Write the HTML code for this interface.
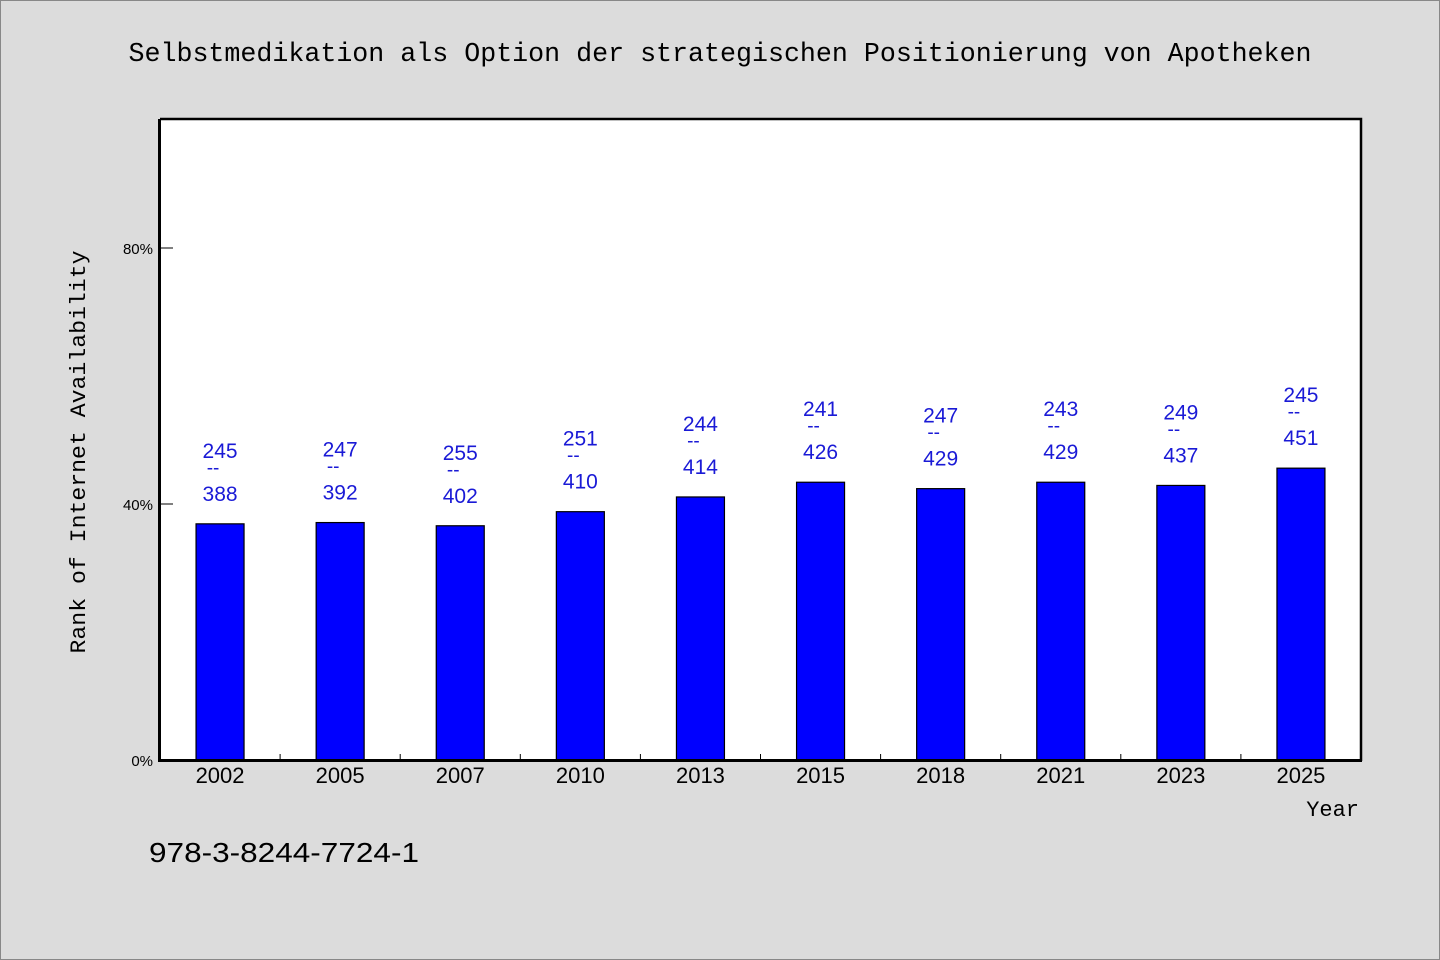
<!DOCTYPE html>
<html><head><meta charset="utf-8"><style>
html,body{margin:0;padding:0;background:#dcdcdc;}
svg{display:block;}
</style></head><body>
<svg width="1440" height="960" xmlns="http://www.w3.org/2000/svg">
<rect x="0.5" y="0.5" width="1439" height="959" fill="#dcdcdc" stroke="#888"/>
<text x="720" y="61" text-anchor="middle" font-family="'Liberation Mono',monospace" font-size="27" textLength="1183" lengthAdjust="spacingAndGlyphs" fill="#000">Selbstmedikation als Option der strategischen Positionierung von Apotheken</text>
<rect x="160" y="120" width="1201" height="640" fill="#fff"/>
<g id="bars"></g>
<g id="axes"></g>
<path d="M160,119 H1361 V761" fill="none" stroke="#000" stroke-width="2.5"/>
<path d="M159.5,119 V760.5 H1362" fill="none" stroke="#000" stroke-width="3"/>
<text transform="translate(85,452) rotate(-90)" text-anchor="middle" font-family="'Liberation Mono',monospace" font-size="22" textLength="403" lengthAdjust="spacingAndGlyphs">Rank of Internet Availability</text>
<text x="1359" y="816" text-anchor="end" font-family="'Liberation Mono',monospace" font-size="22">Year</text>
<text x="149" y="862" font-family="'Liberation Sans',sans-serif" font-size="28" textLength="270" lengthAdjust="spacingAndGlyphs">978-3-8244-7724-1</text>
</svg>
<script>
const years = ['2002','2005','2007','2010','2013','2015','2018','2021','2023','2025'];
const values = [36.9, 37.1, 36.6, 38.8, 41.1, 43.4, 42.4, 43.4, 42.9, 45.6];
const topLabels = ['245','247','255','251','244','241','247','243','249','245'];
const bottomLabels = ['388','392','402','410','414','426','429','429','437','451'];
const yTicks = [0, 40, 80];
const yTickLabels = ['0%','40%','80%'];

const NS='http://www.w3.org/2000/svg';
const x0=160, x1=1361, yBase=760, yTop=120, yMax=100;
const band=(x1-x0)/years.length;
function xScale(i){return x0+band*(i+0.5);}
function yScale(v){return yBase-(v/yMax)*(yBase-yTop);}
function mk(tag,attrs,parent){const e=document.createElementNS(NS,tag);for(const k in attrs)e.setAttribute(k,attrs[k]);parent.appendChild(e);return e;}
const gb=document.getElementById('bars'), ga=document.getElementById('axes');
years.forEach((yr,i)=>{
  const cx=xScale(i), top=yScale(values[i]);
  const r=mk('rect',{x:cx-24,y:top,width:48,height:yBase-top,fill:'#0000ff',stroke:'#000','stroke-width':1.2},gb);
  
  
  const t1=mk('text',{x:cx,y:top-66,'text-anchor':'middle','font-family':"'Liberation Sans',sans-serif",'font-size':21,fill:'#1a1ad6'},gb);
  t1.textContent=topLabels[i];
  
  
  const d=mk('text',{x:cx-7,y:top-50,'text-anchor':'middle','font-family':"'Liberation Sans',sans-serif",'font-size':19,fill:'#1a1ad6'},gb);
  d.textContent='--';
  
  
  const t2=mk('text',{x:cx,y:top-23,'text-anchor':'middle','font-family':"'Liberation Sans',sans-serif",'font-size':21,fill:'#1a1ad6'},gb);
  t2.textContent=bottomLabels[i];
  
  
  const xl=mk('text',{x:cx,y:783,'text-anchor':'middle','font-family':"'Liberation Sans',sans-serif",'font-size':22,fill:'#000'},ga);
  xl.textContent=yr;
  
  
  if(i>0){
    const tk=mk('line',{x1:x0+band*i,x2:x0+band*i,y1:yBase,y2:yBase-6,stroke:'#000','stroke-width':1},ga);
    
    
  }
});
yTicks.forEach((v,i)=>{
  const y=yScale(v);
  const tk=mk('line',{x1:x0,x2:x0+13,y1:y,y2:y,stroke:'#000','stroke-width':1},ga);
  
  
  const tl=mk('text',{x:153,y:y+6,'text-anchor':'end','font-family':"'Liberation Sans',sans-serif",'font-size':15,fill:'#000'},ga);
  tl.textContent=yTickLabels[i];
  
  
});
</script>
</body></html>
